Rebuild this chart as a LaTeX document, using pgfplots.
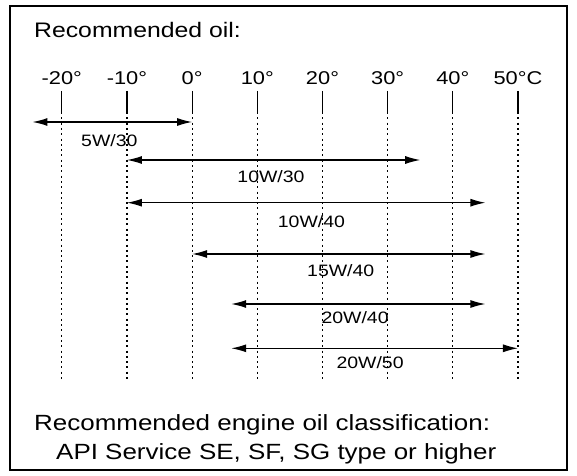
\documentclass[border=0pt]{standalone}
\usepackage{pgfplots}
\pgfplotsset{compat=1.18}
\usepackage{fontspec}
\setmainfont{Liberation Sans}[FakeStretch=1.18]
\usetikzlibrary{arrows.meta}
\begin{document}
\begin{tikzpicture}
\begin{axis}[
  width=577bp, height=476bp, scale only axis,
  xmin=-29.483, xmax=59.055, ymin=0, ymax=476, y dir=reverse,
  hide axis, clip=false,
]
\path (rel axis cs:0,0) rectangle (rel axis cs:1,1);
% frame
\draw[line width=2.6bp] (axis cs:-27.949,6) rectangle (axis cs:57.52,470);
% title
\node[anchor=base west, inner sep=0pt, font=\fontsize{21bp}{25bp}\selectfont] at (axis cs:-24.27,37.5) {Recommended oil:};
% temperature ticks
\pgfplotsinvokeforeach{-20,-10,0,10,20,30,40,50}{
  \addplot[black, line width=1.1bp] coordinates {(#1,91) (#1,112)};
  \addplot[black, line width=1.1bp, dash pattern=on 2bp off 3.3bp] coordinates {(#1,112) (#1,382)};
}
\pgfplotsforeachungrouped \t/\lab in {-20/-20°,-10/-10°,0/0°,10/10°,20/20°,30/30°,40/40°,50/50°C}{
  \edef\tmp{\noexpand\node[anchor=base, inner sep=0pt, font=\noexpand\fontsize{18.5bp}{22bp}\noexpand\selectfont] at (axis cs:\t,85) {\lab};}
  \tmp
}
% oil ranges
\pgfplotsset{oilarrow/.style={black, line width=1.2bp, {Latex[length=15bp,width=8bp]}-{Latex[length=15bp,width=8bp]}}}
\addplot[oilarrow] coordinates {(-24.5,122) (0,122)};
\addplot[oilarrow] coordinates {(-10,160) (35,160)};
\addplot[oilarrow] coordinates {(-10,202.7) (45,202.7)};
\addplot[oilarrow] coordinates {(0,254) (45,254)};
\addplot[oilarrow] coordinates {(6,304) (45,304)};
\addplot[oilarrow] coordinates {(6,348.3) (50,348.3)};
\tikzset{oillab/.style={anchor=base, inner sep=0pt, font=\fontsize{16.5bp}{19bp}\selectfont}}
\node[oillab] at (axis cs:-12.7,146.7) {5W/30};
\node[oillab] at (axis cs:12.1,182) {10W/30};
\node[oillab] at (axis cs:18.3,227.5) {10W/40};
\node[oillab] at (axis cs:22.8,276.5) {15W/40};
\node[oillab] at (axis cs:25.0,323.5) {20W/40};
\node[oillab] at (axis cs:27.3,368) {20W/50};
% bottom text
\node[anchor=base west, inner sep=0pt, font=\fontsize{22bp}{26bp}\selectfont] at (axis cs:-24.27,430) {Recommended engine oil classification:};
\node[anchor=base west, inner sep=0pt, font=\fontsize{22bp}{26bp}\selectfont] at (axis cs:-20.89,459.5) {API Service SE, SF, SG type or higher};
\end{axis}
\end{tikzpicture}
\end{document}
